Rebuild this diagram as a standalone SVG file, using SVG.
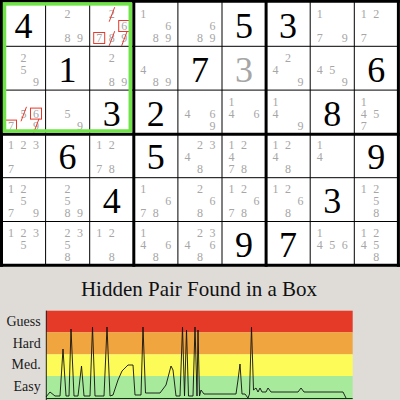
<svg xmlns="http://www.w3.org/2000/svg" width="400" height="400" viewBox="0 0 400 400">
<style>
text{font-family:"Liberation Serif","Times New Roman",serif}
.c{font-size:12px;fill:#a6a6a6;text-anchor:middle}
.b{font-size:36px;fill:#000;text-anchor:middle}
.g{font-size:36px;fill:#a6a6a6;text-anchor:middle}
.thin{stroke:#000;stroke-width:1}
.thick{stroke:#000;stroke-width:3}
.x{stroke:#e8392c;stroke-width:1}
.bx{fill:none;stroke:#e8392c;stroke-width:1}
.lab{font-size:14px;fill:#1a1a1a;text-anchor:end}
</style>
<rect x="0" y="0" width="400" height="400" fill="#dfdcd8"/>
<rect x="1.5" y="1.2" width="396.9" height="264.1" fill="#fff"/>

<g id="cells">
<!-- row 0 -->
<g id="r0c0"><text class="b" x="23.5" y="38">4</text></g>
<g id="r0c1"><text class="c" x="67.6" y="17.9">2</text><text class="c" x="67.6" y="41.9">8</text><text class="c" x="80.1" y="41.9">9</text></g>
<g id="r0c2"><text class="c" x="111.7" y="17.9">2</text><text class="c" x="124.2" y="29.9">6</text><text class="c" x="99.2" y="41.9">7</text><text class="c" x="111.7" y="41.9">8</text><text class="c" x="124.2" y="41.9">9</text>
<line class="x" x1="114.7" y1="7.2" x2="109.2" y2="21.7"/><line class="x" x1="114.7" y1="31.2" x2="109.2" y2="45.7"/><line class="x" x1="127.2" y1="31.2" x2="121.7" y2="45.7"/>
<rect class="bx" x="118.7" y="20.5" width="11" height="11"/><rect class="bx" x="93.7" y="32.5" width="11" height="11"/></g>
<g id="r0c3"><text class="c" x="143.3" y="17.9">1</text><text class="c" x="168.3" y="29.9">6</text><text class="c" x="155.8" y="41.9">8</text><text class="c" x="168.3" y="41.9">9</text></g>
<g id="r0c4"><text class="c" x="212.4" y="29.9">6</text><text class="c" x="199.9" y="41.9">8</text><text class="c" x="212.4" y="41.9">9</text></g>
<g id="r0c5"><text class="b" x="244" y="38">5</text></g>
<g id="r0c6"><text class="b" x="288.1" y="38">3</text></g>
<g id="r0c7"><text class="c" x="319.7" y="17.9">1</text><text class="c" x="319.7" y="41.9">7</text><text class="c" x="344.7" y="41.9">9</text></g>
<g id="r0c8"><text class="c" x="363.8" y="17.9">1</text><text class="c" x="376.3" y="17.9">2</text><text class="c" x="363.8" y="41.9">7</text></g>
<!-- row 1 -->
<g id="r1c0"><text class="c" x="23.5" y="61.7">2</text><text class="c" x="23.5" y="73.7">5</text><text class="c" x="36" y="85.7">9</text></g>
<g id="r1c1"><text class="b" x="67.6" y="81.8">1</text></g>
<g id="r1c2"><text class="c" x="111.7" y="61.7">2</text><text class="c" x="111.7" y="85.7">8</text><text class="c" x="124.2" y="85.7">9</text></g>
<g id="r1c3"><text class="c" x="143.3" y="73.7">4</text><text class="c" x="155.8" y="85.7">8</text><text class="c" x="168.3" y="85.7">9</text></g>
<g id="r1c4"><text class="b" x="199.9" y="81.8">7</text></g>
<g id="r1c5"><text class="g" x="244" y="81.8">3</text></g>
<g id="r1c6"><text class="c" x="288.1" y="61.7">2</text><text class="c" x="275.6" y="73.7">4</text><text class="c" x="300.6" y="85.7">9</text></g>
<g id="r1c7"><text class="c" x="319.7" y="73.7">4</text><text class="c" x="332.2" y="73.7">5</text><text class="c" x="344.7" y="85.7">9</text></g>
<g id="r1c8"><text class="b" x="376.3" y="81.8">6</text></g>
<!-- row 2 -->
<g id="r2c0"><text class="c" x="23.5" y="117.5">5</text><text class="c" x="36" y="117.5">6</text><text class="c" x="11" y="129.5">7</text><text class="c" x="36" y="129.5">9</text>
<line class="x" x1="26.5" y1="106.8" x2="21" y2="121.3"/><line class="x" x1="39" y1="118.8" x2="33.5" y2="133.3"/>
<rect class="bx" x="30.5" y="108.1" width="11" height="11"/><rect class="bx" x="5.5" y="120.1" width="11" height="11"/></g>
<g id="r2c1"><text class="c" x="67.6" y="117.5">5</text><text class="c" x="80.1" y="129.5">9</text></g>
<g id="r2c2"><text class="b" x="111.7" y="125.6">3</text></g>
<g id="r2c3"><text class="b" x="155.8" y="125.6">2</text></g>
<g id="r2c4"><text class="c" x="187.4" y="117.5">4</text><text class="c" x="212.4" y="117.5">6</text><text class="c" x="212.4" y="129.5">9</text></g>
<g id="r2c5"><text class="c" x="231.5" y="105.5">1</text><text class="c" x="231.5" y="117.5">4</text><text class="c" x="256.5" y="117.5">6</text></g>
<g id="r2c6"><text class="c" x="275.6" y="105.5">1</text><text class="c" x="275.6" y="117.5">4</text><text class="c" x="300.6" y="129.5">9</text></g>
<g id="r2c7"><text class="b" x="332.2" y="125.6">8</text></g>
<g id="r2c8"><text class="c" x="363.8" y="105.5">1</text><text class="c" x="363.8" y="117.5">4</text><text class="c" x="376.3" y="117.5">5</text><text class="c" x="363.8" y="129.5">7</text></g>
<!-- row 3 -->
<g id="r3c0"><text class="c" x="11" y="149.3">1</text><text class="c" x="23.5" y="149.3">2</text><text class="c" x="36" y="149.3">3</text><text class="c" x="11" y="173.3">7</text></g>
<g id="r3c1"><text class="b" x="67.6" y="169.4">6</text></g>
<g id="r3c2"><text class="c" x="99.2" y="149.3">1</text><text class="c" x="111.7" y="149.3">2</text><text class="c" x="99.2" y="173.3">7</text><text class="c" x="111.7" y="173.3">8</text></g>
<g id="r3c3"><text class="b" x="155.8" y="169.4">5</text></g>
<g id="r3c4"><text class="c" x="199.9" y="149.3">2</text><text class="c" x="212.4" y="149.3">3</text><text class="c" x="187.4" y="161.3">4</text><text class="c" x="199.9" y="173.3">8</text></g>
<g id="r3c5"><text class="c" x="231.5" y="149.3">1</text><text class="c" x="244" y="149.3">2</text><text class="c" x="231.5" y="161.3">4</text><text class="c" x="231.5" y="173.3">7</text><text class="c" x="244" y="173.3">8</text></g>
<g id="r3c6"><text class="c" x="275.6" y="149.3">1</text><text class="c" x="288.1" y="149.3">2</text><text class="c" x="275.6" y="161.3">4</text><text class="c" x="288.1" y="173.3">8</text></g>
<g id="r3c7"><text class="c" x="319.7" y="149.3">1</text><text class="c" x="319.7" y="161.3">4</text></g>
<g id="r3c8"><text class="b" x="376.3" y="169.4">9</text></g>
<!-- row 4 -->
<g id="r4c0"><text class="c" x="11" y="193.1">1</text><text class="c" x="23.5" y="193.1">2</text><text class="c" x="23.5" y="205.1">5</text><text class="c" x="11" y="217.1">7</text><text class="c" x="36" y="217.1">9</text></g>
<g id="r4c1"><text class="c" x="67.6" y="193.1">2</text><text class="c" x="67.6" y="205.1">5</text><text class="c" x="67.6" y="217.1">8</text><text class="c" x="80.1" y="217.1">9</text></g>
<g id="r4c2"><text class="b" x="111.7" y="213.2">4</text></g>
<g id="r4c3"><text class="c" x="143.3" y="193.1">1</text><text class="c" x="168.3" y="205.1">6</text><text class="c" x="143.3" y="217.1">7</text><text class="c" x="155.8" y="217.1">8</text></g>
<g id="r4c4"><text class="c" x="199.9" y="193.1">2</text><text class="c" x="212.4" y="205.1">6</text><text class="c" x="199.9" y="217.1">8</text></g>
<g id="r4c5"><text class="c" x="231.5" y="193.1">1</text><text class="c" x="244" y="193.1">2</text><text class="c" x="256.5" y="205.1">6</text><text class="c" x="231.5" y="217.1">7</text><text class="c" x="244" y="217.1">8</text></g>
<g id="r4c6"><text class="c" x="275.6" y="193.1">1</text><text class="c" x="288.1" y="193.1">2</text><text class="c" x="300.6" y="205.1">6</text><text class="c" x="288.1" y="217.1">8</text></g>
<g id="r4c7"><text class="b" x="332.2" y="213.2">3</text></g>
<g id="r4c8"><text class="c" x="363.8" y="193.1">1</text><text class="c" x="376.3" y="193.1">2</text><text class="c" x="376.3" y="205.1">5</text><text class="c" x="376.3" y="217.1">8</text></g>
<!-- row 5 -->
<g id="r5c0"><text class="c" x="11" y="236.9">1</text><text class="c" x="23.5" y="236.9">2</text><text class="c" x="36" y="236.9">3</text><text class="c" x="23.5" y="248.9">5</text></g>
<g id="r5c1"><text class="c" x="67.6" y="236.9">2</text><text class="c" x="80.1" y="236.9">3</text><text class="c" x="67.6" y="248.9">5</text><text class="c" x="67.6" y="260.9">8</text></g>
<g id="r5c2"><text class="c" x="99.2" y="236.9">1</text><text class="c" x="111.7" y="236.9">2</text><text class="c" x="111.7" y="260.9">8</text></g>
<g id="r5c3"><text class="c" x="143.3" y="236.9">1</text><text class="c" x="143.3" y="248.9">4</text><text class="c" x="168.3" y="248.9">6</text><text class="c" x="155.8" y="260.9">8</text></g>
<g id="r5c4"><text class="c" x="199.9" y="236.9">2</text><text class="c" x="212.4" y="236.9">3</text><text class="c" x="187.4" y="248.9">4</text><text class="c" x="212.4" y="248.9">6</text><text class="c" x="199.9" y="260.9">8</text></g>
<g id="r5c5"><text class="b" x="244" y="257">9</text></g>
<g id="r5c6"><text class="b" x="288.1" y="257">7</text></g>
<g id="r5c7"><text class="c" x="319.7" y="236.9">1</text><text class="c" x="319.7" y="248.9">4</text><text class="c" x="332.2" y="248.9">5</text><text class="c" x="344.7" y="248.9">6</text></g>
<g id="r5c8"><text class="c" x="363.8" y="236.9">1</text><text class="c" x="376.3" y="236.9">2</text><text class="c" x="363.8" y="248.9">4</text><text class="c" x="376.3" y="248.9">5</text><text class="c" x="376.3" y="260.9">8</text></g>
</g>

<g id="gridlines">
<line class="thin" x1="1.5" y1="46.3" x2="398.4" y2="46.3"/>
<line class="thin" x1="1.5" y1="90.1" x2="398.4" y2="90.1"/>
<line class="thin" x1="1.5" y1="177.7" x2="398.4" y2="177.7"/>
<line class="thin" x1="1.5" y1="221.5" x2="398.4" y2="221.5"/>
<line class="thin" x1="45.6" y1="1.2" x2="45.6" y2="265.3"/>
<line class="thin" x1="89.7" y1="1.2" x2="89.7" y2="265.3"/>
<line class="thin" x1="177.9" y1="1.2" x2="177.9" y2="265.3"/>
<line class="thin" x1="222" y1="1.2" x2="222" y2="265.3"/>
<line class="thin" x1="310.2" y1="1.2" x2="310.2" y2="265.3"/>
<line class="thin" x1="354.3" y1="1.2" x2="354.3" y2="265.3"/>
<line class="thick" x1="0" y1="1.2" x2="400" y2="1.2"/>
<line class="thick" x1="0" y1="134.2" x2="400" y2="134.2"/>
<line class="thick" x1="0" y1="265.3" x2="400" y2="265.3"/>
<line class="thick" x1="1.5" y1="0" x2="1.5" y2="266.8"/>
<line class="thick" x1="133.8" y1="0" x2="133.8" y2="266.8"/>
<line class="thick" x1="266.1" y1="0" x2="266.1" y2="266.8"/>
<line class="thick" x1="398.4" y1="0" x2="398.4" y2="266.8"/>
</g>

<g id="highlight">
<rect x="4.5" y="3.9" width="125.8" height="127.1" fill="none" stroke="#6fe347" stroke-width="3.5"/>
</g>

<text x="199" y="296" font-size="21" fill="#111" text-anchor="middle">Hidden Pair Found in a Box</text>

<g id="chart">
<rect x="46" y="310.7" width="306.7" height="21.6" fill="#e63a28"/>
<rect x="46" y="332.3" width="306.7" height="22" fill="#f1a53e"/>
<rect x="46" y="354.3" width="306.7" height="21.7" fill="#fdfb57"/>
<rect x="46" y="376" width="306.7" height="24" fill="#a7ea9c"/>
<text class="lab" x="40.7" y="326">Guess</text>
<text class="lab" x="40.7" y="347.7">Hard</text>
<text class="lab" x="40.7" y="369.3">Med.</text>
<text class="lab" x="40.7" y="391">Easy</text>
<line x1="46.3" y1="310.7" x2="46.3" y2="400" stroke="#222" stroke-width="1"/>
<line x1="46" y1="398.5" x2="352.7" y2="398.5" stroke="#222" stroke-width="1"/>
<path fill="none" stroke="#111" stroke-width="0.9" stroke-linejoin="round" d="M46,397 L50,392 L55,396 L60,396 L63,349 L66,396 L69,396 L71,329 L74,396 L78,396 L81.5,366 L84,396 L90,396 L92.5,327 L95,396 L104,396 L107,327 L110,396 L113,395 L118,380 L122,371 L128,365 L133,365 L135,395 L141,395 L143,327 L145.5,393 L160,393 L166,385 L171,366 L173,370 L176,396 L180,396 L182.5,327 L184.5,396 L186.5,330 L188.5,396 L193,396 L195,327 L197,396 L198,330 L199.5,396 L201,390 L204,394 L236,394 L238,380 L240,364 L242,394 L245,394 L248,398 L249.5,394 L251.5,327 L253.5,390 L256,388 L258,392 L260,388 L262,392 L266,392 L268,388 L271,392 L298,392 L301,388 L304,392 L343,392 L346,398"/>
</g>
</svg>
